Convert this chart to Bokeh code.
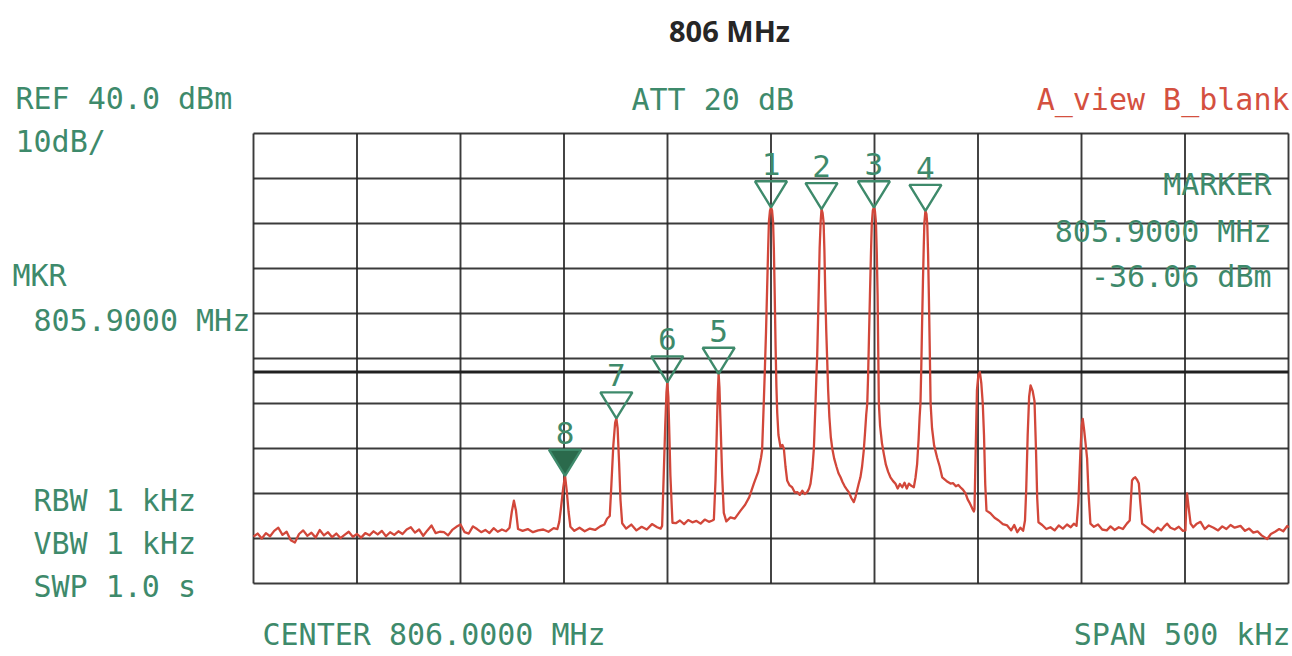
from bokeh.plotting import figure
from bokeh.models import Range1d, Label
from bokeh.embed import file_html
from bokeh.resources import INLINE

# ---------------- data ----------------
title_text = "806 MHz"
center_mhz = 806.0
span_khz = 500
ref_level_dbm = 40.0
db_per_div = 10
display_line_dbm = -13.0

x_grid_khz = [-250, -200, -150, -100, -50, 0, 50, 100, 150, 200, 250]
y_grid_dbm = [40, 30, 20, 10, 0, -10, -20, -30, -40, -50, -60]

# spectrum trace: frequency offset from centre (kHz) and level (dBm)
trace_khz = [
    -250, -248, -246, -244, -242, -240, -238, -236, -234, -232, -230, -228, -226, -224, -222,
    -220, -218, -216, -214, -212, -210, -208, -206, -204, -202, -200, -198, -196, -194, -192,
    -190, -188, -186, -184, -182, -180, -178, -176, -174, -172, -170, -168, -166, -164, -162,
    -160, -158, -156, -154, -152, -150, -148, -146, -144, -142, -140, -138, -136, -134, -132,
    -130, -128,
    -126.3, -125.2, -124.2, -123.2, -122.2,
    -120, -117.5, -115, -112.5, -110, -107.5, -105, -103.2,
    -102.3, -101.4, -100.4, -99.5, -98.7, -97.8, -96.9,
    -95, -92.5, -90, -87.5, -85, -82.5, -80.5, -79.2,
    -77.9, -77.1, -76.2, -75.3, -74.7, -74.1, -73.4, -72.7, -71.9,
    -70, -67.5, -65, -62.5, -60, -57.5, -55, -53.3,
    -52.6, -51.8, -51.1, -50.5, -50.1, -49.6, -49.1, -48.6, -47.6,
    -46, -44, -42, -40, -38, -36, -34, -32, -30, -28.3,
    -27.6, -26.8, -26.2, -25.7, -25.3, -24.9, -24.3, -23.6, -22.8, -21.6,
    -19.6, -17.5, -14.7, -12.5, -10.5, -8.3, -6.2, -4.8,
    -4.3, -3.5, -3.0, -2.4, -1.9, -1.4, -1.0, -0.5, 0.0, 0.5, 1.0, 1.4, 1.8, 2.2, 2.6, 3.0,
    3.6, 4.6, 5.5, 6.2, 7.0, 7.8, 9.0, 10.2, 11.5, 12.7, 13.9, 15.1, 16.3, 17.5, 18.4, 19.1,
    20.0, 20.7,
    21.5, 22.0, 22.3, 22.7, 23.1, 23.5, 24.0, 24.4, 24.9, 25.4, 25.8, 26.2, 26.7, 27.1, 27.6,
    28.2, 28.9, 29.6, 30.5, 31.6, 32.6, 33.6, 34.6, 35.6, 36.6, 37.6, 38.8, 40.0, 40.8, 41.6,
    42.4, 43.2, 44.0, 44.8, 45.5, 46.0, 46.5, 46.9, 47.3, 47.8, 48.3, 48.7, 49.2, 49.7, 50.2,
    50.7, 51.1, 51.5, 51.8, 52.1, 52.7, 53.6, 54.5, 55.5, 56.6, 57.7, 58.9, 60.1, 61.2, 62.3,
    63.4, 64.5, 65.6, 66.6, 67.8, 69.0, 69.8, 70.6, 71.3, 71.8, 72.2, 72.6, 73.0, 73.4, 73.8,
    74.1, 74.6, 75.1, 75.5, 75.9, 76.3, 76.7, 77.1, 77.8, 78.8, 80.3, 81.5, 82.7, 84.0, 85.3,
    86.7, 88.0, 89.3, 90.5, 91.5, 92.8, 94.0, 95.0, 96.1, 97.2, 98.0,
    98.3, 98.9, 99.5, 100.2, 100.9, 101.6, 102.3, 102.9, 103.5, 104.1,
    106.0, 108.0, 110.0, 112.0, 114.1, 116.0, 117.5, 119.0, 120.5, 121.8, 122.7,
    123.3, 124.0, 124.7, 125.4, 126.4, 127.3, 128.0, 128.6, 129.2,
    131.0, 133.0, 135.0, 137.0, 139.0, 141.0, 143.0, 144.8, 146.3, 147.6,
    148.5, 149.5, 150.1, 150.6, 151.3, 152.0, 152.7, 153.4, 154.3,
    156.0, 158.0, 160.0, 162.2, 164.0, 166.0, 168.0, 170.0, 171.9, 173.3,
    174.4, 175.2, 176.0, 176.9, 177.7, 178.4, 179.3,
    181.0, 183.0, 184.9, 186.8, 188.5, 190.0, 191.4, 193.0, 195.0, 197.0, 199.0, 200.2,
    200.6, 201.0, 201.6, 202.7,
    204.0, 205.5, 207.5, 209.5, 211.5, 213.8, 216.0, 218.0, 220.0, 222.0, 224.0, 226.8, 229.0,
    231.0, 233.0, 235.0, 237.0, 239.7, 241.5, 243.5, 245.5, 247.5, 249.4, 250.0,
]
trace_dbm = [
    -49.6, -48.9, -50.0, -48.8, -49.5, -48.3, -47.6, -49.2, -48.5, -50.4, -50.9, -49.0, -48.2, -49.4, -48.7,
    -49.8, -48.1, -49.3, -48.6, -49.7, -48.9, -49.9, -49.2, -48.5, -49.6, -49.0, -49.8, -48.8, -49.3, -48.4,
    -49.1, -48.3, -49.5, -48.6, -49.2, -48.4, -49.0, -48.0, -47.5, -48.7, -48.0, -49.4, -48.2, -47.1, -48.8,
    -48.5, -48.6, -49.3, -48.1, -47.4, -46.9, -48.6, -48.9, -47.3, -47.9, -48.6, -48.1, -48.8, -47.7, -48.5,
    -48.0, -48.4,
    -47.6, -44.0, -41.6, -43.8, -47.9,
    -48.3, -47.9, -48.6, -48.2, -48.0, -48.5, -47.7, -47.9,
    -46.3, -43.0, -38.8, -36.06, -39.3, -44.0, -47.4,
    -48.3, -47.6, -48.4, -47.8, -48.1, -47.3, -46.9, -45.6,
    -45.0, -38.0, -29.5, -24.3, -23.3, -25.5, -33.0, -41.5, -46.6,
    -47.8, -46.9, -48.2, -47.4, -48.0, -46.8, -47.5, -47.8,
    -47.2, -35.5, -25.0, -17.5, -15.3, -18.5, -27.0, -36.0, -46.5,
    -46.6, -46.0, -46.8, -45.9, -46.4, -46.1, -46.7, -45.8, -46.3, -46.0,
    -45.8, -37.0, -26.5, -17.5, -13.4, -16.5, -25.5, -36.0, -44.3, -46.2,
    -45.3, -45.6, -43.8, -42.5, -40.8, -37.8, -35.2, -32.0,
    -30.4, -20.0, -13.0, -4.0, 5.0, 14.0, 20.5, 22.8, 23.6, 22.9, 20.4, 14.0, 4.0, -7.0, -16.0, -22.0,
    -27.0, -29.7, -29.2, -30.0, -34.0, -37.1, -38.2, -38.6, -39.8, -39.7, -40.3, -39.4, -40.1, -39.7, -38.9, -37.8,
    -34.5, -30.1,
    -20.0, -13.0, -9.7, -2.0, 6.0, 14.5, 20.5, 23.2, 22.4, 20.3, 14.0, 5.0, -4.0, -9.7, -17.0,
    -23.0, -27.5, -30.0, -32.2, -34.0, -35.5, -36.4, -37.5, -38.4, -39.1, -39.7, -41.0, -41.9, -40.8, -39.3,
    -37.8, -36.4, -34.0, -30.5, -26.0, -22.5, -20.0, -14.0, -6.0, 4.0, 13.5, 20.0, 22.9, 23.6, 22.8,
    20.2, 13.5, 4.0, -8.0, -20.0, -25.0, -28.8, -31.2, -33.6, -35.2, -36.4, -37.2, -37.8, -38.9, -37.9,
    -38.6, -37.6, -38.9, -37.8, -38.3, -38.6, -36.5, -33.4, -28.0, -23.0, -20.0, -12.0, -2.0, 7.0, 15.0,
    20.2, 22.8, 22.1, 19.8, 13.0, 3.0, -8.0, -20.0, -25.5, -29.3, -32.1, -34.0, -36.4, -36.9, -37.4,
    -37.8, -37.7, -38.4, -38.1, -38.6, -39.2, -40.0, -41.3, -42.2, -43.3, -44.0,
    -43.5, -30.0, -17.0, -13.5, -13.0, -15.5, -20.0, -27.0, -38.0, -43.8,
    -44.4, -45.4, -46.0, -46.8, -47.1, -48.2, -47.0, -48.6, -47.6, -48.3, -46.0,
    -39.0, -27.0, -18.5, -16.0, -17.2, -19.5, -30.0, -41.0, -46.4,
    -47.0, -47.9, -47.5, -48.2, -47.1, -47.8, -46.9, -47.5, -46.7, -47.2,
    -42.0, -30.4, -25.0, -23.4, -26.0, -29.0, -32.2, -40.0, -46.7,
    -47.4, -46.9, -48.0, -48.2, -47.3, -48.1, -47.5, -47.9, -46.7, -46.0,
    -37.1, -36.6, -36.4, -37.0, -37.8, -42.0, -46.7,
    -47.3, -48.0, -48.6, -47.6, -48.2, -47.3, -46.7, -47.6, -48.0, -47.4, -48.3, -48.2,
    -43.0, -40.0, -42.5, -46.7,
    -47.5, -46.8, -46.3, -47.9, -47.1, -47.6, -48.2, -47.3, -47.9, -47.0, -47.6, -47.2, -48.3,
    -47.8, -48.7, -48.4, -49.3, -50.1, -49.0, -48.5, -47.9, -48.4, -47.2, -47.6,
]

# peak markers
marker_ids = ["1", "2", "3", "4", "5", "6", "7", "8"]
marker_khz = [0.0, 24.4, 49.7, 74.6, -25.3, -50.1, -74.7, -99.5]
marker_dbm = [23.6, 23.2, 23.6, 22.8, -13.4, -15.3, -23.3, -36.06]
active_marker = "8"

# annotation texts
left_texts = ["REF 40.0 dBm", "10dB/", "MKR", "805.9000 MHz", "RBW 1 kHz", "VBW 1 kHz", "SWP 1.0 s"]
att_text = "ATT 20 dB"
trace_mode_text = "A_view B_blank"
marker_block = ["MARKER", "805.9000 MHz", "-36.06 dBm"]
center_text = "CENTER 806.0000 MHz"
span_text = "SPAN 500 kHz"

# ---------------- layout ----------------
W, H = 1292, 656
PX_PER_KHZ = 2.07          # 103.5 px per 50 kHz division
PX_PER_DB = 4.5            # 45 px per 10 dB division
X0_PX, Y0_PX = 770.5, 133  # canvas position of centre frequency and reference level


def kx(px):   # canvas x pixel -> kHz
    return (px - X0_PX) / PX_PER_KHZ


def dy(py):   # canvas y pixel -> dBm
    return ref_level_dbm - (py - Y0_PX) / PX_PER_DB


GREEN = "#3e8a6b"
DARK_GREEN = "#2b6a4c"
RED = "#d4503f"
TRACE = "#d2473a"
GRID = "#262626"
FONT = "DejaVu Sans Mono"
FSIZE = "30px"

p = figure(width=W, height=H, output_backend="svg", toolbar_location=None,
           x_axis_type=None, y_axis_type=None,
           x_range=Range1d(kx(0), kx(W)), y_range=Range1d(dy(H), dy(0)),
           min_border=0, outline_line_color=None, background_fill_color="white")

x_lo, x_hi = x_grid_khz[0], x_grid_khz[-1]
y_lo, y_hi = y_grid_dbm[-1], y_grid_dbm[0]

# graticule
p.segment(x0=x_grid_khz, y0=[y_lo] * len(x_grid_khz), x1=x_grid_khz, y1=[y_hi] * len(x_grid_khz),
          line_color=GRID, line_width=1.9, line_alpha=0.9)
p.segment(x0=[x_lo] * len(y_grid_dbm), y0=y_grid_dbm, x1=[x_hi] * len(y_grid_dbm), y1=y_grid_dbm,
          line_color=GRID, line_width=1.9, line_alpha=0.9)
# display line
p.segment(x0=[x_lo], y0=[display_line_dbm], x1=[x_hi], y1=[display_line_dbm],
          line_color="#202020", line_width=3.2)

# trace
p.line(trace_khz, trace_dbm, line_color=TRACE, line_width=2.3, line_join="round")

# marker triangles (tip on the peak)
tri_hw = 16 / PX_PER_KHZ
tri_h = 26 / PX_PER_DB
xs, ys, fills, alphas = [], [], [], []
for mid, f, lv in zip(marker_ids, marker_khz, marker_dbm):
    xs.append([f - tri_hw, f + tri_hw, f])
    ys.append([lv + tri_h, lv + tri_h, lv])
    fills.append(DARK_GREEN if mid == active_marker else "white")
    alphas.append(1.0 if mid == active_marker else 0.0)
p.patches(xs, ys, fill_color=fills, fill_alpha=alphas, line_color=GREEN, line_width=2.4)

for mid, f, lv in zip(marker_ids, marker_khz, marker_dbm):
    p.add_layout(Label(x=f, y=lv + tri_h + 17 / PX_PER_DB, text=mid, text_font=FONT,
                       text_font_size="31px", text_color=GREEN, text_align="center",
                       text_baseline="middle"))


def add_text(txt, px, py, align="left", color=GREEN, size=FSIZE, font=FONT, style="normal"):
    # px, py: canvas pixel of the text's anchor (vertical middle)
    p.add_layout(Label(x=kx(px), y=dy(py), text=txt, text_font=font, text_font_size=size,
                       text_color=color, text_align=align, text_baseline="middle",
                       text_font_style=style))


add_text(title_text, 729, 30, align="center", color="#262626", size="29px",
         font="Open Sans", style="bold")

add_text(left_texts[0], 15, 98)
add_text(left_texts[1], 15, 141)
add_text(left_texts[2], 12, 275)
add_text(left_texts[3], 33, 320)
add_text(left_texts[4], 33, 500)
add_text(left_texts[5], 33, 543)
add_text(left_texts[6], 33, 586)

add_text(att_text, 631, 99)
add_text(trace_mode_text, 1289, 99, align="right", color=RED)

add_text(marker_block[0], 1271, 184, align="right")
add_text(marker_block[1], 1271, 231, align="right")
add_text(marker_block[2], 1271, 276, align="right")

add_text(center_text, 262, 634)
add_text(span_text, 1290, 634, align="right")

open("out.html", "w").write(file_html(p, INLINE))
